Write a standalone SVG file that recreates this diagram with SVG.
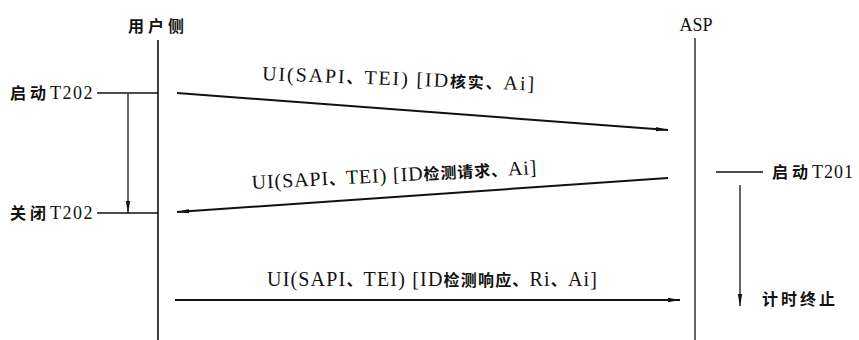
<svg xmlns="http://www.w3.org/2000/svg" width="859" height="340" viewBox="0 0 859 340">
<style>
.t{font-family:"Liberation Serif",serif;font-size:20px;fill:#111;}
.n{font-size:18px;}
.c{font-family:"Noto Sans CJK SC",sans-serif;font-weight:bold;font-size:16px;}
.l{stroke:#111;stroke-width:1.6;fill:none;}
.m{stroke:#111;stroke-width:2;fill:none;}
.thin{stroke:#111;stroke-width:1.3;fill:none;}
</style>
<defs>
<marker id="ah" viewBox="0 0 12 6" refX="12" refY="3" markerWidth="12" markerHeight="6" markerUnits="userSpaceOnUse" orient="auto">
<path d="M0,0.8 L12,3 L0,5.2 Z" fill="#111"/>
</marker>
</defs>
<rect width="859" height="340" fill="#fff"/>
<g id="user">
<text class="t" x="128" y="32"><tspan class="c" letter-spacing="4">用户侧</tspan></text>
<line class="l" x1="158" y1="40" x2="158" y2="340"/>
</g>
<g id="asp">
<text class="t n" x="696" y="31" text-anchor="middle">ASP</text>
<line class="thin" x1="695" y1="38" x2="695" y2="340"/>
</g>
<g id="start-t202">
<text class="t n" x="10" y="99"><tspan class="c" letter-spacing="4">启动</tspan><tspan letter-spacing="1.5">T202</tspan></text>
<line class="l" x1="97" y1="93" x2="158" y2="93"/>
</g>
<g id="stop-t202">
<text class="t n" x="10" y="219"><tspan class="c" letter-spacing="4">关闭</tspan><tspan letter-spacing="1.5">T202</tspan></text>
<line class="l" x1="97" y1="213" x2="158" y2="213"/>
</g>
<g id="start-t201">
<line class="l" x1="716" y1="172" x2="763" y2="172"/>
<text class="t n" x="772" y="178"><tspan class="c" letter-spacing="4">启动</tspan><tspan letter-spacing="1">T201</tspan></text>
</g>
<g id="timeout">
<text class="t" x="762" y="305"><tspan class="c" font-size="17" letter-spacing="3">计时终止</tspan></text>
</g>
<g id="connectors">
<line class="thin" x1="128" y1="94" x2="128" y2="213" marker-end="url(#ah)"/>
<line class="thin" x1="740" y1="185" x2="740" y2="306" marker-end="url(#ah)"/>
<line class="m" x1="177" y1="93" x2="668" y2="130" marker-end="url(#ah)"/>
<line class="m" x1="668" y1="178" x2="177" y2="212" marker-end="url(#ah)"/>
<line class="m" x1="175" y1="300" x2="680" y2="300" marker-end="url(#ah)"/>
<text class="t" x="262" y="80" transform="rotate(2.2 262 80)" textLength="272" lengthAdjust="spacing">UI(SAPI<tspan class="c">、</tspan>TEI) [ID<tspan class="c">核实、</tspan>Ai]</text>
<text class="t" x="252" y="189" transform="rotate(-3 252 189)" textLength="285" lengthAdjust="spacing">UI(SAPI<tspan class="c">、</tspan>TEI) [ID<tspan class="c">检测请求、</tspan>Ai]</text>
<text class="t" x="267" y="286" textLength="330" lengthAdjust="spacing">UI(SAPI<tspan class="c">、</tspan>TEI) [ID<tspan class="c">检测响应、</tspan>Ri<tspan class="c">、</tspan>Ai]</text>
</g>
</svg>
